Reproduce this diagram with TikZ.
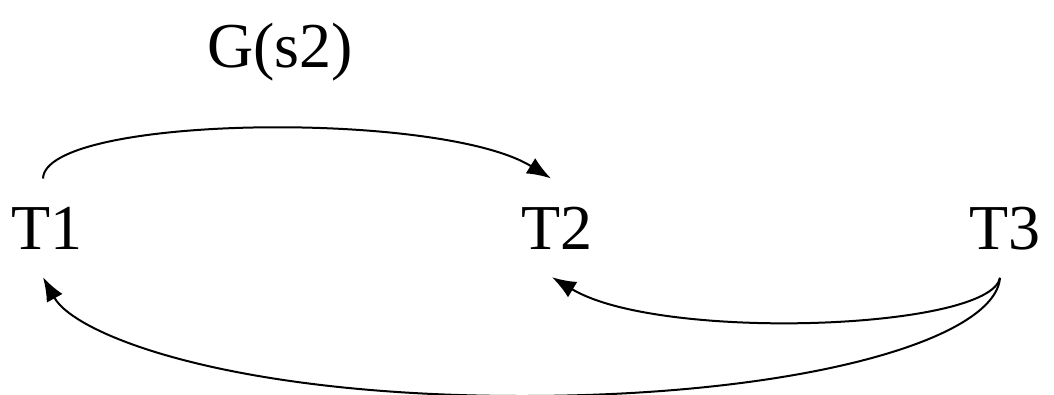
\documentclass[tikz,border=0pt]{standalone}
\usepackage{fontspec}
\setmainfont{Liberation Serif}
\usetikzlibrary{arrows.meta}
\begin{document}
\begin{tikzpicture}[x=1pt,y=-1pt,
  lbl/.style={font=\fontsize{64}{76}\selectfont, inner xsep=0pt, inner ysep=28pt, anchor=base},
  conn/.style={line width=2pt, -{Latex[length=24pt,width=18pt]}}]
\useasboundingbox (0,0) rectangle (1054,394);
\node[lbl] (g) at (280,67) {G(s2)};
\node[lbl] (T1) at (47,249) {T1};
\node[lbl] (T2) at (557,249) {T2};
\node[lbl] (T3) at (1005,249) {T3};
\draw[conn] ([xshift=-4pt]T1.north) .. controls (45,115) and (440,110) .. ([xshift=-6pt]T2.north);
\draw[conn] ([xshift=-5pt]T3.south) .. controls (990,330) and (660,342) .. ([xshift=-5pt]T2.south);
\draw[conn] ([xshift=-5pt]T3.south) .. controls (995,340) and (800,396) .. (522,396)
  .. controls (230,396) and (75,335) .. ([xshift=-4pt]T1.south);
\end{tikzpicture}
\end{document}
